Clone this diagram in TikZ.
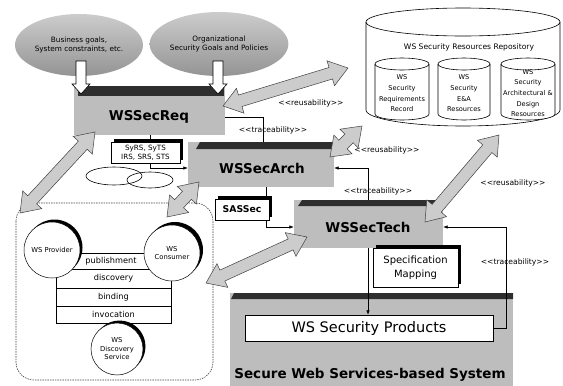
\documentclass[tikz,border=0pt]{standalone}
\usepackage{fontspec}
\setmainfont{DejaVu Sans}
\usetikzlibrary{calc,arrows.meta,shapes.geometric}
\tikzset{
  region/.style={fill=black!26, draw=none, inner sep=0},
  darkbar/.style={fill=black!82},
  cloudsh/.style={ellipse, top color=black!20, bottom color=black!42, draw=none, inner sep=0, align=center, font=\fontsize{7.3}{9.5}\selectfont},
  bigtitle/.style={font=\bfseries\fontsize{13.5}{14}\selectfont, inner sep=0},
  lbl/.style={font=\fontsize{7.6}{8}\selectfont, inner sep=0},
  trace/.style={line width=0.6pt},
  tipend/.style={-{Latex[length=4.5pt,width=3.5pt]}},
  bigarr/.style={fill=black!20, draw=black!75, line width=0.5pt},
  docbox/.style={draw=black, fill=white, line width=0.5pt, inner sep=1pt, align=center},
  downarr/.style={draw=black, fill=white, line width=0.6pt},
  smalltxt/.style={font=\fontsize{6.6}{10.7}\selectfont, align=center, inner sep=0},
  stackbox/.style={draw=black, fill=white, line width=0.5pt, inner sep=0, font=\fontsize{8.2}{9}\selectfont},
  wscirc/.style={circle, draw=black, fill=white, line width=0.5pt, inner sep=0, align=center, font=\fontsize{6.8}{8.5}\selectfont},
  cylline/.style={line width=0.6pt, fill=white},
}
\newcommand\bigarrow[2]{%
  \coordinate (ha) at ($(#1)!18pt!(#2)$);
  \coordinate (hb) at ($(#2)!18pt!(#1)$);
  \draw[bigarr] (#1) -- ($(ha)!13pt!90:(#2)$) -- ($(ha)!6pt!90:(#2)$) -- ($(hb)!6pt!-90:(#1)$) -- ($(hb)!13pt!-90:(#1)$) -- (#2) -- ($(hb)!13pt!90:(#1)$) -- ($(hb)!6pt!90:(#1)$) -- ($(ha)!6pt!-90:(#2)$) -- ($(ha)!13pt!-90:(#2)$) -- cycle;}
\newcommand\smallcyl[2]{%
  \draw[cylline] ({#1-#2},64) -- ({#1-#2},114) arc[start angle=180,end angle=360,x radius=#2pt,y radius=6pt] -- ({#1+#2},64);
  \draw[line width=0.6pt] (#1,64) ellipse[x radius=#2pt,y radius=6pt];}
\begin{document}
\begin{tikzpicture}[x=1pt,y=-1pt]
\useasboundingbox (0,0) rectangle (563,386);

% ---- repository
\draw[cylline] (366,22) -- (366,110) arc[start angle=180,end angle=360,x radius=97pt,y radius=16pt] -- (560,22);
\draw[line width=0.6pt] (463,22) ellipse[x radius=97pt, y radius=14pt];
\node[lbl] (repo) at (469,47) {WS Security Resources Repository};
\smallcyl{402}{27}
\smallcyl{464}{26}
\smallcyl{528}{27}
\node[smalltxt] (c1) at (402,93.5) {WS\\Security\\Requirements\\Record};
\node[smalltxt] (c2) at (464,93.5) {WS\\Security\\E\&A\\Resources};
\node[smalltxt] (c3) at (528,93) {WS\\Security\\Architectural \&\\Design\\Resources};

% ---- clouds
\node[cloudsh, minimum width=128pt, minimum height=62pt] (g1) at (79,45) {Business goals,\\System constraints, etc.};
\node[cloudsh, minimum width=118pt, minimum height=64pt] (g2) at (219,44) {Organizational\\Security Goals and Policies};

% ---- regions
\node[region, minimum width=151pt, minimum height=49pt] (reqR) at (149.5,110.5) {};
\fill[darkbar] (78,86) rectangle (224,96);
\node[region, minimum width=146pt, minimum height=45pt] (archR) at (261,164.5) {};
\fill[darkbar] (196,149) -- (200,142) -- (334,142) -- (334,149) -- cycle;
\node[region, minimum width=149pt, minimum height=48pt] (techR) at (368.5,224) {};
\fill[darkbar] (298,206) -- (302,200) -- (443,200) -- (443,206) -- cycle;
\node[region, minimum width=283pt, minimum height=93pt] (sysR) at (371.5,339.5) {};
\fill[darkbar] (231,299) -- (234,293) -- (513,293) -- (513,299) -- cycle;

% ---- down arrows from the clouds
\draw[downarr] (76,61) -- (76,84) -- (72,84) -- (81,94) -- (90,84) -- (86,84) -- (86,61) -- cycle;
\draw[downarr] (213,61) -- (213,84) -- (209,84) -- (218,94) -- (227,84) -- (223,84) -- (223,61) -- cycle;

% ---- left box (WS architecture)
\draw[draw=black!75, line width=0.6pt, dash pattern=on 1.5pt off 1pt, rounded corners=18pt] (16,203) rectangle (213,380);
\node[stackbox, minimum width=84pt, minimum height=16pt] (pub) at (111,261) {publishment};
\node[stackbox, minimum width=115pt, minimum height=19pt] (dis) at (113.5,278.5) {discovery};
\node[stackbox, minimum width=115pt, minimum height=18pt] (bin) at (113.5,297) {binding};
\node[stackbox, minimum width=115pt, minimum height=17pt] (inv) at (113.5,314.5) {invocation};
\fill (54.5,247.5) circle (28pt);
\node[wscirc, minimum size=56pt] (prov) at (52,250) {WS Provider};
\fill (175,250) circle (28pt);
\node[wscirc, minimum size=56pt] (cons) at (172,253) {WS\\Consumer};
\fill (119.5,346.5) circle (26pt);
\node[wscirc, minimum size=52pt] (disc) at (117,349) {WS\\Discovery\\Service};

% ---- document boxes
\fill (114,139) rectangle (183,160);
\node[docbox, minimum width=69pt, minimum height=21pt, font=\fontsize{7.2}{8.6}\selectfont] (srs) at (145.5,152.5) {SyRS, SyTS\\IRS, SRS, STS};
\fill (218,196) rectangle (272,217);
\node[docbox, minimum width=54pt, minimum height=21pt, font=\bfseries\fontsize{9.3}{10}\selectfont] (sas) at (242,209.5) {SASSec};
\fill (376,245) rectangle (461,284);
\node[docbox, minimum width=85pt, minimum height=39pt, font=\fontsize{10}{14}\selectfont] (spec) at (415.5,267.5) {Specification\\Mapping};
\node[ellipse, draw, line width=0.6pt, minimum width=56pt, minimum height=18pt] (e1) at (114,176) {};
\node[ellipse, draw, line width=0.6pt, minimum width=46pt, minimum height=16pt] (e2) at (150,180) {};

% ---- products
\node[draw, fill=white, line width=0.5pt, minimum width=248pt, minimum height=26pt, inner sep=0, font=\fontsize{14.5}{15}\selectfont] (prod) at (369,328) {WS Security Products};

% ---- big double arrows
\coordinate (a1s) at (223,106); \coordinate (a1e) at (348,68);
\coordinate (a2s) at (330,157); \coordinate (a2e) at (362,126);
\coordinate (a3s) at (425,222); \coordinate (a3e) at (499,135);
\coordinate (a4s) at (95,132);  \coordinate (a4e) at (20,213);
\coordinate (a5s) at (199,182); \coordinate (a5e) at (167,217);
\coordinate (a6s) at (307,237); \coordinate (a6e) at (206,283);
\bigarrow{a1s}{a1e}
\bigarrow{a2s}{a2e}
\bigarrow{a3s}{a3e}
\bigarrow{a4s}{a4e}
\bigarrow{a5s}{a5e}
\bigarrow{a6s}{a6e}

% ---- titles
\node[bigtitle] (req) at (149,117) {WSSecReq};
\node[bigtitle] (arch) at (262,168) {WSSecArch};
\node[bigtitle] (tech) at (368,227) {WSSecTech};
\node[bigtitle] (sys) at (370,375) {Secure Web Services-based System};

% ---- traceability connectors
\coordinate (v263) at (263,0);
\coordinate (v266) at (266,0);
\coordinate (v368) at (368,0);
\coordinate (v506) at (506,0);
\coordinate (v150) at (150,0);
\draw[trace] (reqR.east |- req.center) -| (archR.north -| v263);
\draw[trace] (reqR.south -| v150) -- (srs.north -| v150);
\draw[trace, tipend] (srs.south -| v150) |- (archR.west |- arch.center);
\draw[trace] (archR.south -| v266) -- (sas.north -| v266);
\draw[trace, tipend] (sas.south -| v266) |- (techR.west |- tech.center);
\draw[trace, tipend] (techR.north -| v368) |- (archR.east |- arch.center);
\draw[trace, tipend] (prod.east) -- (prod.east -| v506) -- (v506 |- tech.center) -- (techR.east |- tech.center);
\draw[trace, tipend] (techR.south -| v368) -- (prod.north -| v368);

% ---- labels
\node[lbl] (r1) at (311,103) {<{}<reusability>{}>};
\node[lbl] (r2) at (387,150) {<{}<reusability>{}>};
\node[lbl] (r3) at (513,183) {<{}<reusability>{}>};
\node[lbl] (t1) at (273,130) {<{}<traceability>{}>};
\node[lbl] (t2) at (378,191) {<{}<traceability>{}>};
\node[lbl] (t3) at (515,262) {<{}<traceability>{}>};
\end{tikzpicture}
\end{document}
